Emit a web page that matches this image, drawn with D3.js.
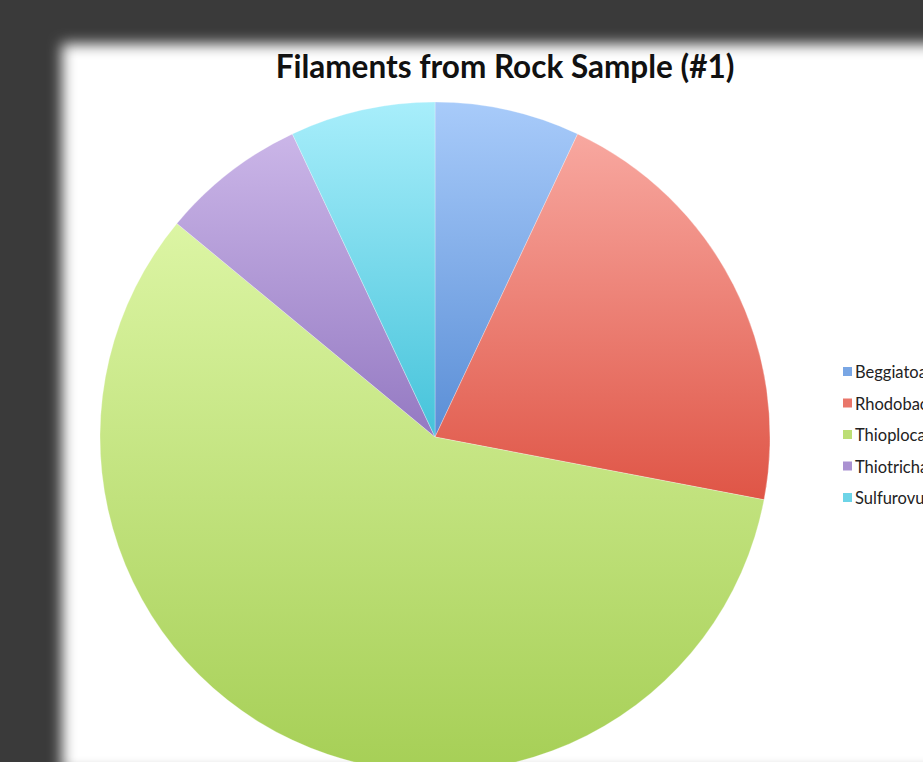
<!DOCTYPE html>
<html>
<head>
<meta charset="utf-8">
<script src="https://cdn.jsdelivr.net/npm/d3@7"></script>
<style>
  html, body { margin: 0; padding: 0; background: #3a3a3a; overflow: hidden; }
  svg { display: block; }
</style>
</head>
<body>
<div id="chart"></div>
<script>
// data
var categories = ["Beggiatoa", "Rhodobacter", "Thioploca", "Thiotrichales", "Sulfurovum"];
var values = [7, 21, 58, 7, 7];
var topColors = ["#a8cbfa", "#f8a8a0", "#dcf5a4", "#cbb6e8", "#a8eefb"];
var bottomColors = ["#5a8ed6", "#df5546", "#a6cf56", "#9479c2", "#45c3da"];
var title = "Filaments from Rock Sample (#1)";

var width = 923, height = 762;
var cx = 435, cy = 437, radius = 335;

var svg = d3.select("#chart").append("svg")
    .attr("width", width)
    .attr("height", height);

var defs = svg.append("defs");

// blurred white panel
defs.append("filter")
    .attr("id", "soft")
    .attr("x", "-10%").attr("y", "-10%")
    .attr("width", "120%").attr("height", "120%")
  .append("feGaussianBlur")
    .attr("stdDeviation", 7);

svg.append("rect")
    .attr("width", width).attr("height", height)
    .attr("fill", "#3a3a3a");

svg.append("rect")
    .attr("x", 62).attr("y", 44)
    .attr("width", 960).attr("height", 728)
    .attr("fill", "#ffffff")
    .attr("filter", "url(#soft)");

// per-slice vertical gradients
categories.forEach(function(c, i) {
  var g = defs.append("linearGradient")
      .attr("id", "grad" + i)
      .attr("x1", 0).attr("y1", 0)
      .attr("x2", 0).attr("y2", 1);
  g.append("stop").attr("offset", "0%").attr("stop-color", topColors[i]);
  g.append("stop").attr("offset", "100%").attr("stop-color", bottomColors[i]);
});

var pie = d3.pie().sort(null).value(function(d) { return d; });
var arc = d3.arc().innerRadius(0).outerRadius(radius);

var g = svg.append("g")
    .attr("transform", "translate(" + cx + "," + cy + ")");

g.selectAll("path")
    .data(pie(values))
  .enter().append("path")
    .attr("d", arc)
    .attr("fill", function(d, i) { return "url(#grad" + i + ")"; })
    .attr("stroke", "rgba(255,255,255,0.35)")
    .attr("stroke-width", 0.8);

// title
svg.append("text")
    .attr("x", 505)
    .attr("y", 78)
    .attr("text-anchor", "middle")
    .style("font-family", "Lato, 'Open Sans', sans-serif")
    .style("font-weight", "bold")
    .style("font-size", "31.5px")
    .attr("fill", "#111")
    .text(title);

// legend
var legend = svg.append("g")
    .attr("transform", "translate(843,372)");

var item = legend.selectAll("g")
    .data(categories)
  .enter().append("g")
    .attr("transform", function(d, i) { return "translate(0," + (i * 31.5) + ")"; });

item.append("rect")
    .attr("x", 0).attr("y", -5)
    .attr("width", 9).attr("height", 9)
    .attr("fill", function(d, i) { return d3.interpolateRgb(topColors[i], bottomColors[i])(0.6); });

item.append("text")
    .attr("x", 12)
    .attr("y", 6)
    .style("font-family", "Lato, 'Open Sans', sans-serif")
    .style("font-size", "16.5px")
    .attr("fill", "#222")
    .text(function(d) { return d; });
</script>
</body>
</html>
